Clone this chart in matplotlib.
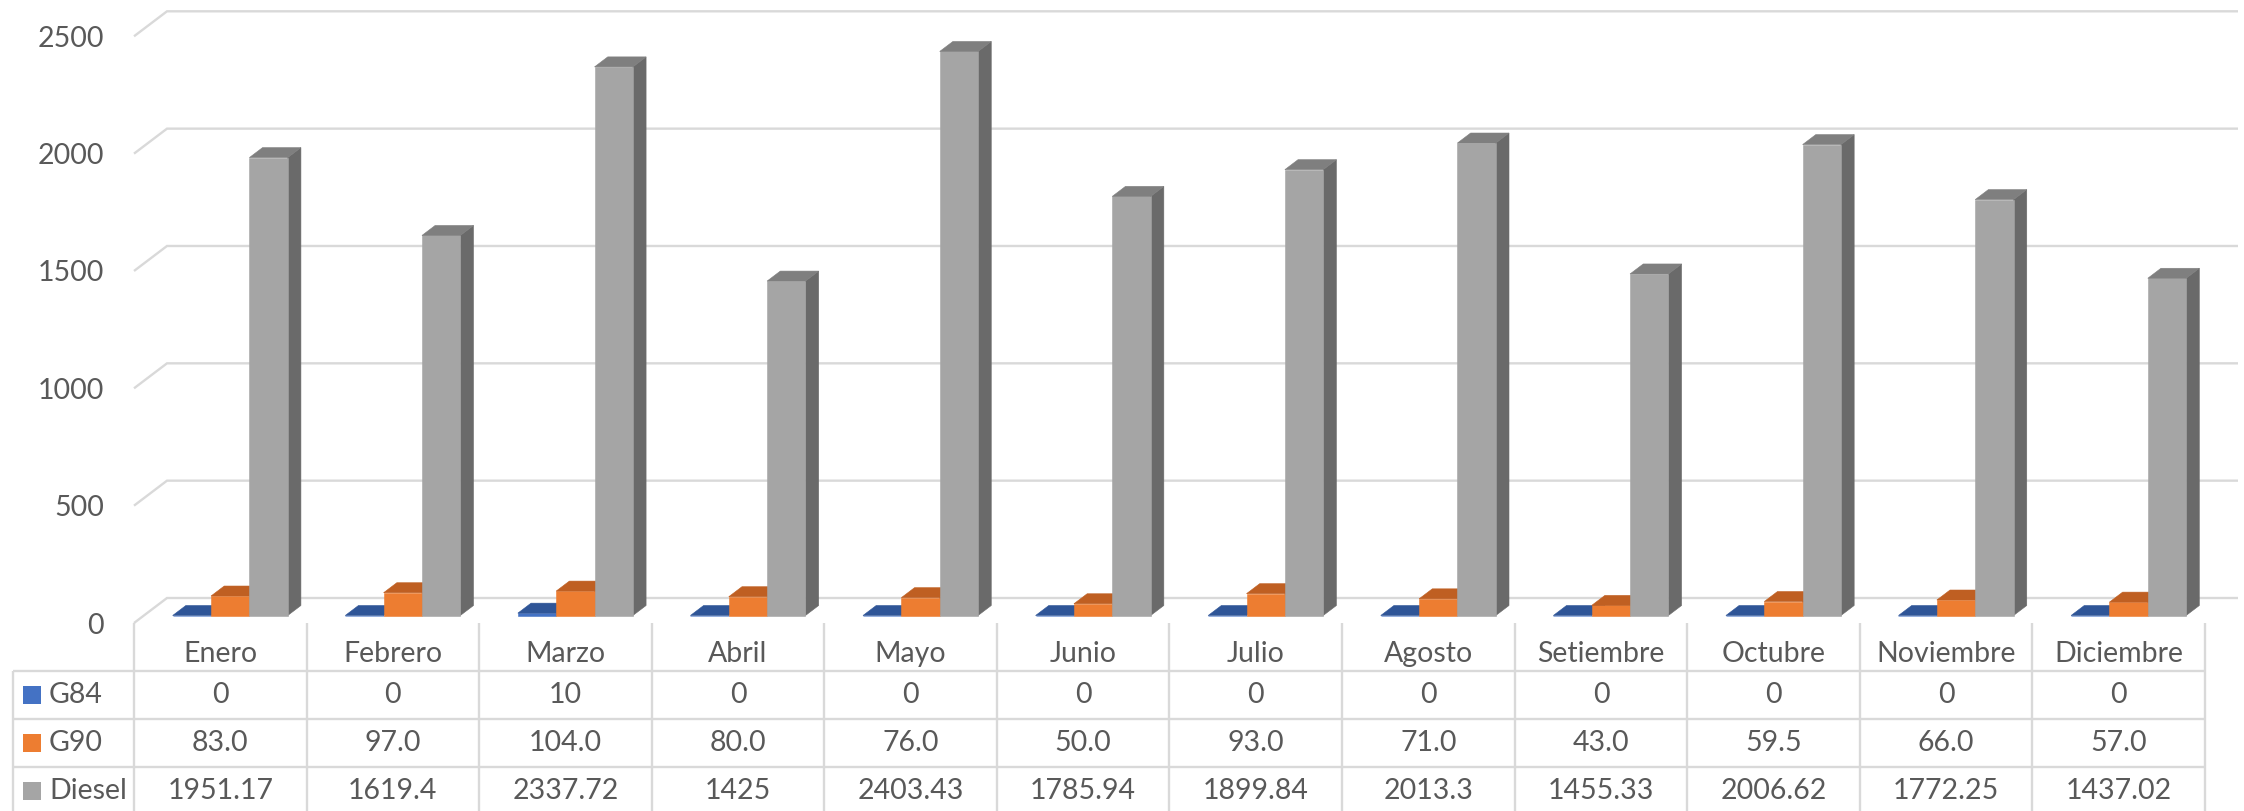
import matplotlib
matplotlib.use('Agg')
import matplotlib.pyplot as plt
from matplotlib.patches import Polygon, Rectangle
import numpy as np

plt.rcParams['font.family'] = ['Lato', 'DejaVu Sans']

# ---------------- data ----------------
months = ['Enero', 'Febrero', 'Marzo', 'Abril', 'Mayo', 'Junio', 'Julio',
          'Agosto', 'Setiembre', 'Octubre', 'Noviembre', 'Diciembre']
series_names = ['G84', 'G90', 'Diesel']
g84 = [0, 0, 10, 0, 0, 0, 0, 0, 0, 0, 0, 0]
g90 = [83.0, 97.0, 104.0, 80.0, 76.0, 50.0, 93.0, 71.0, 43.0, 59.5, 66.0, 57.0]
diesel = [1951.17, 1619.4, 2337.72, 1425, 2403.43, 1785.94, 1899.84,
          2013.3, 1455.33, 2006.62, 1772.25, 1437.02]
y_ticks = [0, 500, 1000, 1500, 2000, 2500]

series = [g84, g90, diesel]
fmt = [lambda v: '%d' % v, lambda v: '%.1f' % v, lambda v: '%g' % v]
front_c = ['#4472C4', '#ED7D31', '#A5A5A5']
top_c = ['#2F5597', '#BF5F22', '#7F7F7F']
side_c = ['#2A4D8A', '#B0561C', '#6A6A6A']

TXT = '#595959'
GRID = '#D9D9D9'

# ---------------- layout ----------------
W, H = 2244, 811
fig = plt.figure(figsize=(W / 100, H / 100), dpi=100)
ax = fig.add_axes([134 / W, (H - 623) / H, 2071 / W, 586.7 / H])
ax.set_xlim(0, 12)
ax.set_ylim(0, 2500)
for s in ax.spines.values():
    s.set_visible(False)
ax.patch.set_visible(False)
ax.set_xticks([])
ax.set_yticks(y_ticks)
ax.set_yticklabels([str(v) for v in y_ticks])
ax.tick_params(axis='y', length=0, pad=21.5, labelsize=20.5, labelcolor=TXT)

DX, DY = 33.0, 25.0  # depth vector in pixels (front -> back)


def depth(t):
    p0 = ax.transData.transform((0, 0))
    q = ax.transData.inverted().transform(p0 + np.array([DX * t, DY * t]))
    return q[0], q[1]


# gridlines (back wall + left wall)
ox1, oy1 = depth(1.0)
for v in y_ticks:
    ax.plot([0, ox1, 12 + ox1], [v, v + oy1, v + oy1], color=GRID, lw=1.7,
            clip_on=False, zorder=1, solid_joinstyle='miter',
            solid_capstyle='butt')

# bars
bar_w = 2 / 9
t0, t1 = 0.3, 0.7
ax0, ay0 = depth(t0)
ax1_, ay1 = depth(t1)
z = 2
for i in range(12):
    for k, vals in enumerate(series):
        v = vals[i]
        xl = i + 1 / 6 + k * bar_w
        xr = xl + bar_w
        front = [(xl + ax0, ay0), (xr + ax0, ay0), (xr + ax0, v + ay0), (xl + ax0, v + ay0)]
        top = [(xl + ax0, v + ay0), (xr + ax0, v + ay0), (xr + ax1_, v + ay1), (xl + ax1_, v + ay1)]
        side = [(xr + ax0, ay0), (xr + ax1_, ay1), (xr + ax1_, v + ay1), (xr + ax0, v + ay0)]
        for poly, col in ((side, side_c[k]), (front, front_c[k]), (top, top_c[k])):
            ax.add_patch(Polygon(poly, closed=True, facecolor=col, edgecolor=col,
                                 lw=0.4, clip_on=False, zorder=z))
            z += 1

# ---------------- data table ----------------
tab = fig.add_axes([0, 0, 1, 1])
tab.set_xlim(0, W)
tab.set_ylim(H, 0)
tab.axis('off')
tab.patch.set_visible(False)

col_px = [ax.transData.transform((i, 0))[0] for i in range(13)]
row_tops = [671, 719, 767]
LW = 1.7
for x in col_px:
    tab.plot([x, x], [623, H + 2], color=GRID, lw=LW, solid_capstyle='butt')
tab.plot([13, 13], [671, H + 2], color=GRID, lw=LW, solid_capstyle='butt')
for y in row_tops:
    tab.plot([13, col_px[-1]], [y, y], color=GRID, lw=LW, solid_capstyle='butt')

FS = 20.5
for i, m in enumerate(months):
    cx = (col_px[i] + col_px[i + 1]) / 2
    tab.text(cx, 662, m, ha='center', va='baseline', fontsize=FS, color=TXT)

for k, name in enumerate(series_names):
    yt = row_tops[k]
    tab.add_patch(Rectangle((23, yt + 15), 18, 18, facecolor=front_c[k], edgecolor='none'))
    tab.text(49, yt + 32, name, ha='left', va='baseline', fontsize=FS, color=TXT)
    for i in range(12):
        cx = (col_px[i] + col_px[i + 1]) / 2
        tab.text(cx, yt + 32, fmt[k](series[k][i]), ha='center', va='baseline',
                 fontsize=FS, color=TXT)

fig.savefig('out.png', dpi=100)
